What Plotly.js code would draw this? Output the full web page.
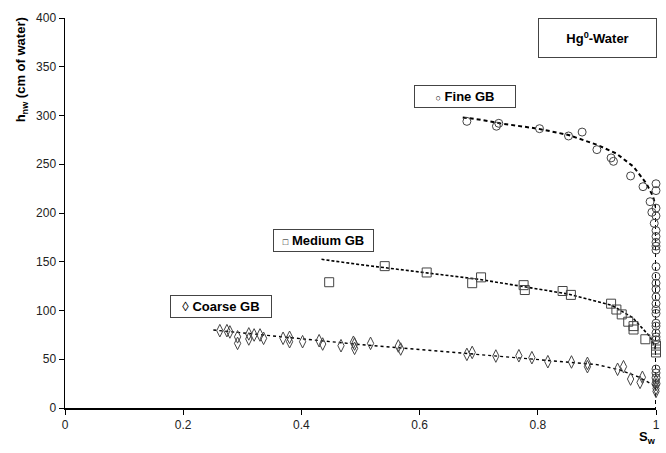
<!DOCTYPE html>
<html>
<head>
<meta charset="utf-8">
<script src="https://cdn.plot.ly/plotly-3.0.1.min.js"></script>
<style>html,body{margin:0;padding:0;background:#fff;}#chart{width:666px;height:453px;}</style>
</head>
<body>
<div id="chart"></div>
<script>
// Fine GB measured data
const fineSw = [0.680,0.730,0.734,0.803,0.852,0.875,0.900,0.924,0.928,0.957,0.978,0.990,0.993,0.997,
  1,1,1,1,1,1,1,1,1,1,1,1,1,1,1,1,1,1,1,1,1,1,1,1,1,1];
const fineH = [294,289,292,286.5,279,283,265,256.5,253,238,227,211.6,200.7,189.4,
  230,223,205,197,182,176,170,166,162,145,135,128,122,114,107,101,97,87,84,77,73,70,40,36,31,25];
// Medium GB measured data
const medSw = [0.447,0.541,0.612,0.689,0.704,0.776,0.778,0.842,0.856,0.924,0.933,0.942,0.953,0.962,0.962,0.982,1,1,1];
const medH = [129,145.5,139,128,134,126,121,120,116,107,101,96,88.5,84,80.5,70.5,64,60,57];
// Coarse GB measured data
const coarseSw = [0.262,0.274,0.279,0.292,0.292,0.311,0.311,0.320,0.330,0.336,0.369,0.380,0.380,0.402,0.430,0.436,
  0.467,0.488,0.490,0.490,0.517,0.564,0.568,0.680,0.689,0.729,0.768,0.790,0.817,0.857,0.884,0.884,0.935,0.945,
  0.957,0.973,0.977,1,1,1,1];
const coarseH = [79.3,79.3,78,73,66.3,76,70.8,74.9,74.9,71.5,71.5,72.5,68,68,69,65.6,
  63.9,67.4,65.6,61.2,66.3,63.6,60.5,55,57,53.3,53.6,51.6,47.5,47.2,45.8,42.4,39.7,42.4,
  29.7,26.3,31.5,28,24,20,17];
// Fitted curves
const fineFitSw = [0.673,0.700,0.736,0.800,0.852,0.900,0.933,0.962,0.984,0.995,1.0,1.0];
const fineFitH = [298,296,292,286.5,280,270,261,247.5,230,217,205,0];
const medFitSw = [0.434,0.500,0.600,0.700,0.776,0.850,0.924,0.960,0.990,0.998,1.0];
const medFitH = [152.5,147,139.5,132,124.5,117,105.6,93,73,63,55];
const coarseFitSw = [0.251,0.300,0.400,0.500,0.600,0.700,0.800,0.900,0.939,0.970,0.995,1.0];
const coarseFitH = [80,77,70.5,65,60,55,50,44.5,39,32,23.6,18];
// Ticks
const xTicks = [0,0.2,0.4,0.6,0.8,1];
const xTickText = ['0','0.2','0.4','0.6','0.8','1'];
const yTicks = [0,50,100,150,200,250,300,350,400];

const mk = (sym, size) => ({symbol: sym, size: size, color: '#444', line: {color: '#444', width: 1}});
const traces = [
  {x: fineFitSw, y: fineFitH, mode: 'lines', line: {color: '#000', width: 2, dash: '4px,3px'}, hoverinfo: 'skip'},
  {x: medFitSw, y: medFitH, mode: 'lines', line: {color: '#000', width: 1.6, dash: '3px,2px'}, hoverinfo: 'skip'},
  {x: coarseFitSw, y: coarseFitH, mode: 'lines', line: {color: '#000', width: 1.4, dash: 'dot'}, hoverinfo: 'skip'},
  {x: fineSw, y: fineH, mode: 'markers', cliponaxis: false, marker: mk('circle-open', 8)},
  {x: medSw, y: medH, mode: 'markers', cliponaxis: false, marker: mk('square-open', 9)},
  {x: coarseSw, y: coarseH, mode: 'markers', cliponaxis: false, marker: mk('diamond-tall-open', 9)}
];
const boxFont = {family: 'Liberation Sans, Arial, sans-serif', size: 13, color: '#000'};
const annBox = (x, y, text, w, h) => ({x: x, y: y, xref: 'x', yref: 'y', text: text, showarrow: false,
  xanchor: 'center', yanchor: 'middle',
  font: boxFont, bgcolor: '#fff', bordercolor: '#444', borderwidth: 1, width: w, height: h, borderpad: 0});
const layout = {
  width: 666, height: 453,
  margin: {l: 65, r: 10, t: 18, b: 45},
  paper_bgcolor: '#fff', plot_bgcolor: '#fff',
  showlegend: false,
  font: {family: 'Liberation Sans, Arial, sans-serif', size: 12, color: '#000'},
  xaxis: {range: [0, 1], tickvals: xTicks, ticktext: xTickText, showgrid: false, zeroline: false,
    showline: true, linecolor: '#000', linewidth: 1.5, ticks: 'outside', ticklen: 5, tickcolor: '#000',
    tickfont: {size: 12, color: '#222'}},
  yaxis: {range: [0, 400], tickvals: yTicks, showgrid: false, zeroline: false,
    showline: true, linecolor: '#000', linewidth: 1.5, ticks: 'outside', ticklen: 5, tickcolor: '#000',
    tickfont: {size: 12, color: '#222'}},
  annotations: [
    annBox(0.676, 319.5, '<span style="font-size:9px;font-weight:normal">○</span> <b>Fine GB</b>', 100, 21),
    annBox(0.437, 171.8, '<span style="font-size:9px;font-weight:normal">□</span> <b>Medium GB</b>', 99, 21),
    annBox(0.264, 103.6, '<span style="font-weight:normal">◊</span> <b>Coarse GB</b>', 100, 21),
    annBox(0.901, 379.0, '<b>Hg<sup>0</sup>-Water</b>', 117, 38),
    {xref: 'paper', yref: 'paper', x: -0.073, y: 0.868, xanchor: 'center', yanchor: 'middle',
      text: '<b>h<sub>nw</sub> (cm of water)</b>',
      textangle: -90, showarrow: false, font: {family: 'Liberation Sans, Arial, sans-serif', size: 13, color: '#000'}},
    {xref: 'paper', yref: 'paper', x: 0.985, y: -0.075, xanchor: 'center', yanchor: 'middle',
      text: '<b>S<sub>w</sub></b>', showarrow: false,
      font: {family: 'Liberation Sans, Arial, sans-serif', size: 13, color: '#000'}}
  ]
};
Plotly.newPlot('chart', traces, layout, {displayModeBar: false, staticPlot: true});
</script>
</body>
</html>
